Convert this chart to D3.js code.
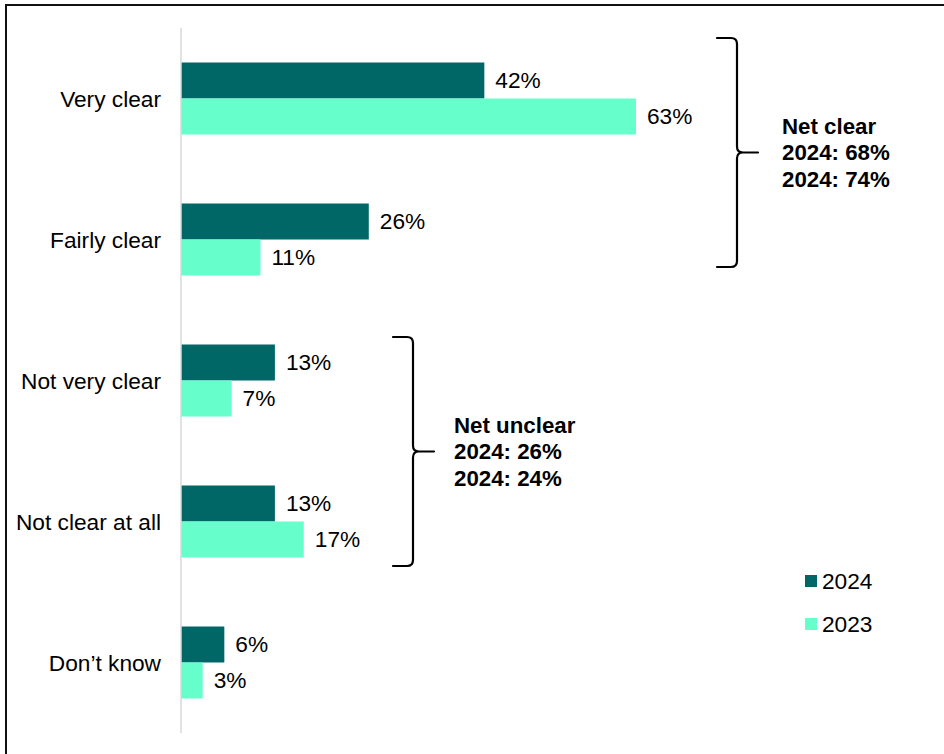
<!DOCTYPE html>
<html>
<head>
<meta charset="utf-8">
<script src="https://cdn.jsdelivr.net/npm/d3@7"></script>
<style>
  html, body { margin: 0; padding: 0; background: #fff; }
  svg { display: block; }
  text { font-family: "Liberation Sans", Arial, sans-serif; fill: #000; }
</style>
</head>
<body>
<svg id="chart" width="944" height="754"></svg>
<script>
// Survey responses: how clear respondents found the information
const categories = ["Very clear", "Fairly clear", "Not very clear", "Not clear at all", "Don\u2019t know"];
const seriesNames = ["2024", "2023"];
const values2024 = [42, 26, 13, 13, 6];
const values2023 = [63, 11, 7, 17, 3];
const seriesColors = ["#006766", "#66FFCC"];

// Net groupings shown with braces
const netGroups = [
  { from: "Very clear", to: "Fairly clear", lines: ["Net clear", "2024: 68%", "2024: 74%"] },
  { from: "Not very clear", to: "Not clear at all", lines: ["Net unclear", "2024: 26%", "2024: 24%"] }
];

const svg = d3.select("#chart");
const W = 944, H = 754;
const fontSize = 22.7, boldSize = 22.3;

// Outer frame (top and left edges visible)
svg.append("rect")
  .attr("x", 6).attr("y", 5)
  .attr("width", W + 20).attr("height", H + 20)
  .attr("fill", "none").attr("stroke", "#111").attr("stroke-width", 2);

const x0 = 181;
const x = d3.scaleLinear().domain([0, 63]).range([x0, 636]);
const y = d3.scaleBand().domain(categories).range([28, 733]).padding(0);
const barH = 36;

const rows = categories.map((c, i) => ({ cat: c, v: [values2024[i], values2023[i]] }));

const g = svg.append("g");

// Bars and value labels
rows.forEach(r => {
  const cy = y(r.cat) + y.bandwidth() / 2;
  r.v.forEach((v, s) => {
    const top = cy - barH + s * barH;
    g.append("rect")
      .attr("x", x(0)).attr("y", top)
      .attr("width", x(v) - x(0)).attr("height", barH)
      .attr("fill", seriesColors[s]);
    g.append("text")
      .attr("x", x(v) + 11).attr("y", top + barH / 2)
      .attr("dy", "0.35em")
      .attr("font-size", fontSize)
      .text(v + "%");
  });
  g.append("text")
    .attr("x", x0 - 20).attr("y", cy + 1)
    .attr("dy", "0.35em")
    .attr("text-anchor", "end")
    .attr("font-size", fontSize)
    .text(r.cat);
});

// Category axis line
svg.append("line")
  .attr("x1", x0).attr("x2", x0)
  .attr("y1", y.range()[0]).attr("y2", y.range()[1])
  .attr("stroke", "#d9d9d9").attr("stroke-width", 1.5);

// Curly brace path: stub at top, vertical, tip at middle, vertical, stub at bottom
function bracePath(xl, top, bottom, tipLen) {
  const xv = xl + 20, mid = (top + bottom) / 2, r = 6;
  return `M${xl},${top} L${xv - r},${top} Q${xv},${top} ${xv},${top + r}
    L${xv},${mid - r} Q${xv},${mid} ${xv + r},${mid} L${xv + tipLen},${mid}
    M${xv + r},${mid} Q${xv},${mid} ${xv},${mid + r}
    L${xv},${bottom - r} Q${xv},${bottom} ${xv - r},${bottom} L${xl},${bottom}`;
}

const braceGeom = [
  { xl: 717, tx: 782, top: y("Very clear") + 10, bottom: y("Fairly clear") + y.bandwidth() - 43 },
  { xl: 393, tx: 454, top: y("Not very clear") + 27, bottom: y("Not clear at all") + y.bandwidth() - 26 }
];

netGroups.forEach((grp, i) => {
  const b = braceGeom[i];
  svg.append("path")
    .attr("d", bracePath(b.xl, b.top, b.bottom, 21))
    .attr("fill", "none").attr("stroke", "#000").attr("stroke-width", 2.2)
    .attr("stroke-linecap", "round");
  const mid = (b.top + b.bottom) / 2;
  grp.lines.forEach((ln, k) => {
    svg.append("text")
      .attr("x", b.tx).attr("y", mid - 19 + k * 26.5)
      .attr("font-size", boldSize)
      .attr("font-weight", "bold")
      .text(ln);
  });
});

// Legend
const legend = svg.append("g").attr("transform", "translate(805,575)");
seriesNames.forEach((name, i) => {
  const row = legend.append("g").attr("transform", `translate(0,${i * 43})`);
  row.append("rect").attr("width", 12).attr("height", 12).attr("fill", seriesColors[i]);
  row.append("text").attr("x", 17).attr("y", 6).attr("dy", "0.35em")
    .attr("font-size", fontSize).text(name);
});
</script>
</body>
</html>
